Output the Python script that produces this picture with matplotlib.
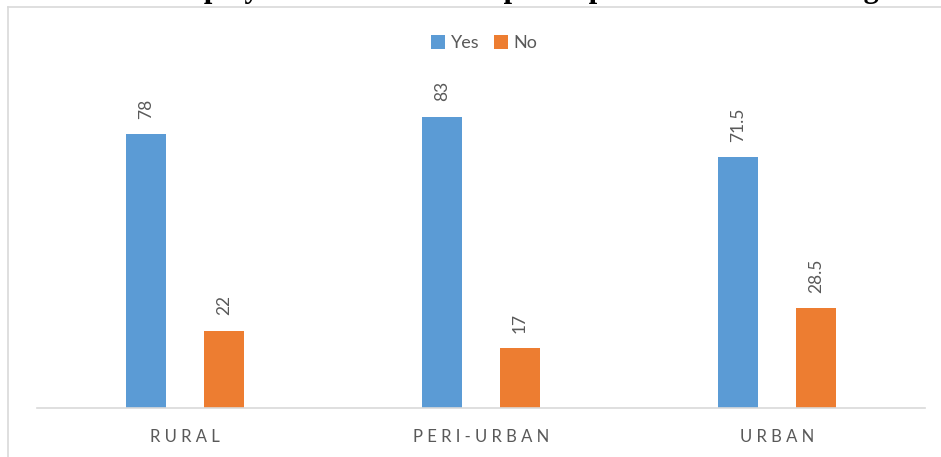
import numpy as np
import matplotlib
matplotlib.use('Agg')
import matplotlib.pyplot as plt
from matplotlib.lines import Line2D

categorias = ['RURAL', 'PERI-URBAN', 'URBAN']
sim = [78, 83, 71.5]
nao = [22, 17, 28.5]
rotulos = ['Yes', 'No']
titulo = 'Employment status of sample respondents in Percentage'

cor_sim = '#5B9BD5'
cor_nao = '#ED7D31'
cinza = '#595959'

W, H = 941, 457
fig = plt.figure(figsize=(W / 100, H / 100), dpi=100)

# area do grafico em pixels
x0, x1 = 37, 925
y_base, y_topo = 408, 92
ax = fig.add_axes([x0 / W, (H - y_base) / H, (x1 - x0) / W, (y_base - y_topo) / H])

x = np.arange(len(categorias))
largura = 0.135
desloc = 0.132

b1 = ax.bar(x - desloc, sim, largura, color=cor_sim, label=rotulos[0])
b2 = ax.bar(x + desloc, nao, largura, color=cor_nao, label=rotulos[1])

for barras in (b1, b2):
    for barra in barras:
        v = barra.get_height()
        txt = f'{v:g}'
        ax.annotate(txt, xy=(barra.get_x() + barra.get_width() / 2, v),
                    xytext=(0, 11), textcoords='offset points',
                    ha='center', va='bottom', rotation=90,
                    fontsize=12.5, color=cinza, family='Lato')

ax.set_xlim(-0.5, 2.5)
ax.set_ylim(0, 90)
ax.set_yticks([])
ax.set_xticks(x)
ax.set_xticklabels([' '.join(c) for c in categorias], fontsize=12, color=cinza, family='Lato')
ax.tick_params(axis='x', length=0, pad=15)
for lado in ['top', 'right', 'left']:
    ax.spines[lado].set_visible(False)
ax.spines['bottom'].set_color('#D9D9D9')
ax.spines['bottom'].set_linewidth(1.2)

leg = fig.legend(loc='center', bbox_to_anchor=(484 / W, (H - 43) / H), ncol=2, frameon=False,
                 handlelength=0.8, handleheight=0.8, handletextpad=0.3, columnspacing=0.8,
                 prop={'family': 'Lato', 'size': 13})
for t in leg.get_texts():
    t.set_color(cinza)

# moldura do grafico
fig.add_artist(Line2D([8 / W, 8 / W], [0, (H - 7) / H], color='#D9D9D9', lw=1.2))
fig.add_artist(Line2D([8 / W, 1], [(H - 7) / H, (H - 7) / H], color='#D9D9D9', lw=1.2))

# titulo cortado no topo (so aparecem as descendentes)
fig.text(525 / W, (H + 3) / H, titulo, ha='center', va='baseline',
         fontsize=22, fontweight='bold', family='Liberation Serif', color='black')

fig.savefig('out.png', dpi=100)
